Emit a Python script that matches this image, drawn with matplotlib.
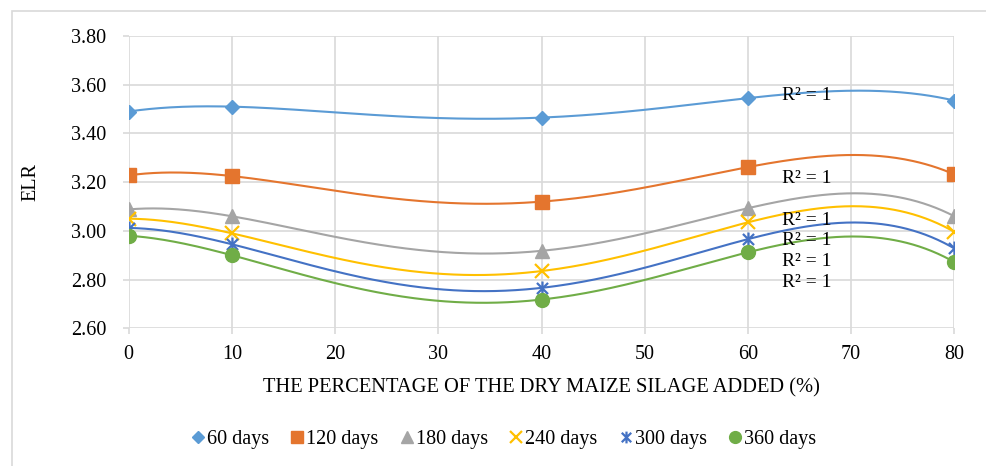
import numpy as np
import matplotlib
matplotlib.use("Agg")
import matplotlib.pyplot as plt
from matplotlib.path import Path
from matplotlib.patches import Rectangle

plt.rcParams['font.family'] = ['Liberation Serif', 'DejaVu Serif']

x_values = [0, 10, 40, 60, 80]
series_names = ["60 days", "120 days", "180 days", "240 days", "300 days", "360 days"]
elr_60 = [3.49, 3.51, 3.465, 3.545, 3.535]
elr_120 = [3.228, 3.225, 3.12, 3.262, 3.232]
elr_180 = [3.088, 3.06, 2.918, 3.093, 3.06]
elr_240 = [3.05, 2.99, 2.835, 3.035, 2.996]
elr_300 = [3.012, 2.945, 2.766, 2.966, 2.928]
elr_360 = [2.98, 2.90, 2.718, 2.912, 2.872]
all_series = [elr_60, elr_120, elr_180, elr_240, elr_300, elr_360]
colors = ["#5B9BD5", "#E4752E", "#A5A5A5", "#FFC000", "#4472C4", "#70AD47"]
x_ticks = [0, 10, 20, 30, 40, 50, 60, 70, 80]
y_ticks = [2.60, 2.80, 3.00, 3.20, 3.40, 3.60, 3.80]
r2_label = "R² = 1"
r2_pos = [(63.3, 3.555), (63.3, 3.216), (63.3, 3.041), (63.3, 2.959), (63.3, 2.876), (63.3, 2.79)]

star = Path([(-1, -1), (1, 1), (-1, 1), (1, -1), (0, -1.25), (0, 1.25)],
            [Path.MOVETO, Path.LINETO, Path.MOVETO, Path.LINETO, Path.MOVETO, Path.LINETO])
markers = [dict(marker='D', ms=7.5),
           dict(marker='s', ms=10),
           dict(marker='^', ms=10),
           dict(marker='x', ms=10, mew=1.6),
           dict(marker=star, ms=10, mew=1.6, mfc='none'),
           dict(marker='o', ms=10)]

W, H = 987, 466
fig = plt.figure(figsize=(W / 100, H / 100), dpi=100)
fig.patches.append(Rectangle((12 / W, -0.1), 1.2, (H - 11) / H + 0.1, transform=fig.transFigure,
                             fill=False, edgecolor='#d9d9d9', lw=1.2))
left, right, top, bottom = 128.7, 954.3, 36.0, 328.3
ax = fig.add_axes([left / W, 1 - bottom / H, (right - left) / W, (bottom - top) / H])
ax.set_xlim(0, 80)
ax.set_ylim(2.6, 3.8)
ax.set_xticks(x_ticks)
ax.set_yticks(y_ticks)
ax.set_yticklabels([f"{v:.2f}" for v in y_ticks])
ax.grid(True, color='#d9d9d9', lw=1.2)
ax.set_axisbelow(True)
for s in ax.spines.values():
    s.set_visible(False)
ax.tick_params(axis='both', length=4, color='#d9d9d9', width=1.2, labelsize=14.5, labelcolor='#000000')
ax.tick_params(axis='y', pad=12)
ax.tick_params(axis='x', pad=8)

xs = np.linspace(0, 80, 400)
handles = []
for name, ys, c, mk in zip(series_names, all_series, colors, markers):
    coef = np.polyfit(x_values, ys, 4)
    ax.plot(xs, np.polyval(coef, xs), color=c, lw=1.5, zorder=2)
    kw = dict(mk)
    kw.setdefault('mfc', c)
    h, = ax.plot(x_values, ys, ls='none', color=c, mec=c, zorder=3, label=name, **kw)
    handles.append(h)

for (px, py) in r2_pos:
    ax.text(px, py, r2_label, fontsize=14, va='center', ha='left', color='black', zorder=4)

ax.set_xlabel("THE PERCENTAGE OF THE DRY MAIZE SILAGE ADDED (%)", fontsize=14.8, labelpad=10)
ax.set_ylabel("ELR", fontsize=14.5, labelpad=22)

fig.legend(handles=handles, loc='center', bbox_to_anchor=(504 / W, 1 - 439 / H), ncol=6,
           frameon=False, fontsize=14.5, handlelength=0.6, handletextpad=0.15,
           columnspacing=1.1, markerscale=0.85)

fig.savefig("out.png", dpi=100)
